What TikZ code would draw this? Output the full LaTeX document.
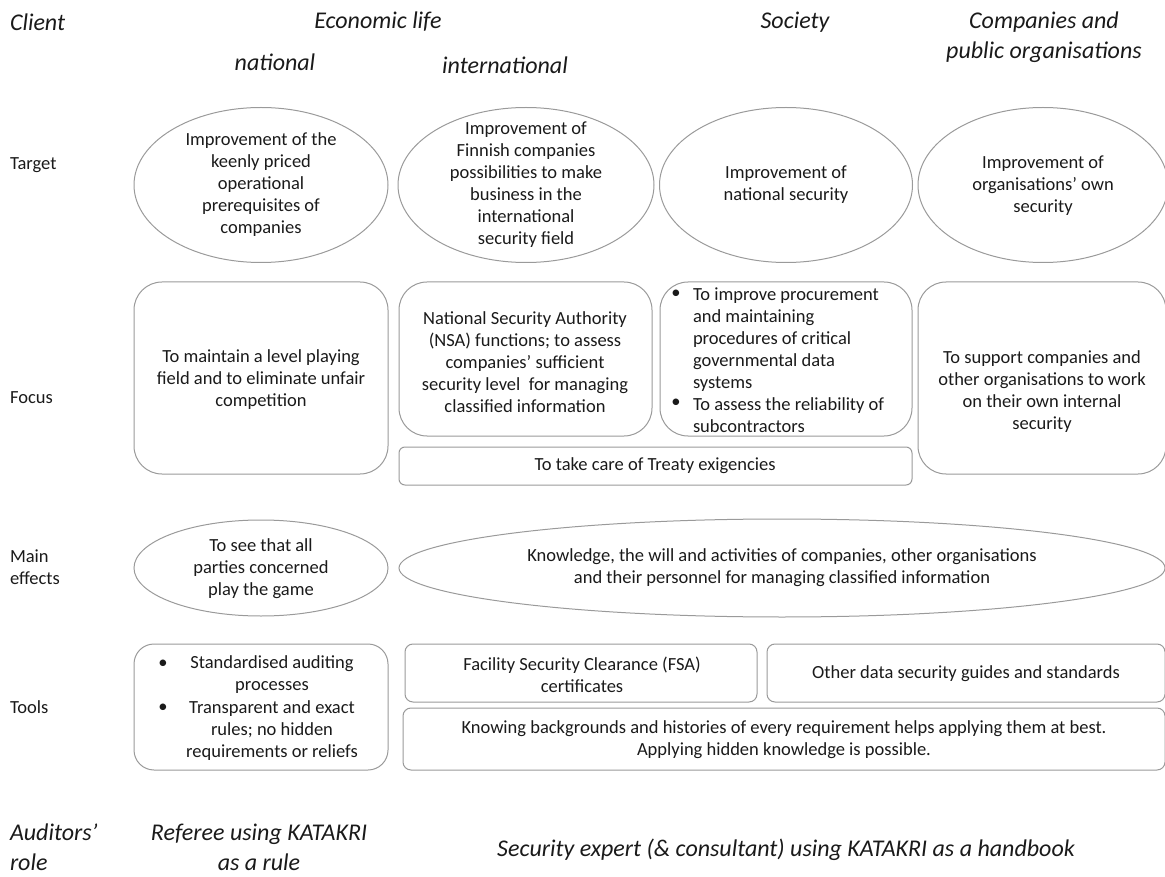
\documentclass[tikz,border=0pt]{standalone}
\usepackage{fontspec}
\setmainfont{Carlito}
\usetikzlibrary{shapes.geometric}
\definecolor{edge}{HTML}{9A9A9A}
\definecolor{txt}{HTML}{1A1A1A}
\begin{document}
\begin{tikzpicture}[x=1pt,y=-1pt,
  every node/.style={inner sep=0pt, outer sep=0pt, text=txt},
  body/.style={font=\fontsize{18.5}{22}\selectfont, align=center},
  head/.style={font=\fontsize{24}{30}\selectfont\itshape, align=center},
  lab/.style={font=\fontsize{18.5}{22}\selectfont, align=left, anchor=west},
  oval/.style={ellipse, draw=edge, line width=1pt},
  rbox/.style={rectangle, draw=edge, line width=1pt, rounded corners=#1},
  rbox/.default=8pt
]
\useasboundingbox (0,0) rectangle (1165,877);

% headers
\node[head, anchor=west] (hclient) at (10,22) {Client};
\node[head] (hecon) at (378,22) {Economic life};
\node[head] (hnat) at (275,62) {national};
\node[head] (hint) at (505,65) {international};
\node[head] (hsoc) at (795,22) {Society};
\node[head] (hcomp) at (1044,37) {Companies and\\public organisations};

% row labels
\node[lab] (ltarget) at (10,165) {Target};
\node[lab] (lfocus) at (10,398) {Focus};
\node[lab] (lmain) at (10,567) {Main\\effects};
\node[lab] (ltools) at (10,707) {Tools};

% Target row
\node[oval, minimum width=254pt, minimum height=155pt] (e1) at (261,185) {};
\node[oval, minimum width=256pt, minimum height=155pt] (e2) at (526,185) {};
\node[oval, minimum width=253pt, minimum height=155pt] (e3) at (786,185) {};
\node[oval, minimum width=250pt, minimum height=155pt] (e4) at (1043,185) {};
\node[body] (t1) at (261,185) {Improvement of the\\keenly priced\\operational\\prerequisites of\\companies};
\node[body] (t2) at (526,185) {Improvement of\\Finnish companies\\possibilities to make\\business in the\\international\\security field};
\node[body] (t3) at (786,185) {Improvement of\\national security};
\node[body] (t4) at (1043,186) {Improvement of\\organisations’ own\\security};

% Focus row
\node[rbox=28pt, minimum width=254pt, minimum height=192pt] (r1) at (261,378) {};
\node[rbox=28pt, minimum width=253pt, minimum height=154pt] (r2) at (525.5,359) {};
\node[rbox=28pt, minimum width=252pt, minimum height=154pt] (r3) at (786,359) {};
\node[rbox=28pt, minimum width=248pt, minimum height=192pt] (r4) at (1042,378) {};
\node[rbox=6pt, minimum width=513pt, minimum height=38pt] (r5) at (655.5,466) {};
\node[body] (t5) at (261,380) {To maintain a level playing\\field and to eliminate unfair\\competition};
\node[body] (t6) at (525,362) {National Security Authority\\(NSA) functions; to assess\\companies’ sufficient\\security level\ \ for managing\\classified information};
\node[body, align=left, anchor=west] (t7) at (693,360) {To improve procurement\\and maintaining\\procedures of critical\\governmental data\\systems\\To assess the reliability of\\subcontractors};
\node[body] (b3) at (676,294) {\textbullet};
\node[body] (b4) at (676,403) {\textbullet};
\node[body] (t8) at (1042,392) {To support companies and\\other organisations to work\\on their own internal\\security};
\node[body] (t9) at (655,466) {To take care of Treaty exigencies};

% Main effects row
\node[oval, minimum width=254pt, minimum height=96pt] (e5) at (261,568) {};
\node[oval, minimum width=766pt, minimum height=98pt] (e6) at (782,568) {};
\node[body] (t10) at (261,569) {To see that all\\parties concerned\\play the game};
\node[body] (t11) at (782,568) {Knowledge, the will and activities of companies, other organisations\\and their personnel for managing classified information};

% Tools row
\node[rbox=20pt, minimum width=254pt, minimum height=126pt] (r6) at (261,707) {};
\node[rbox=8pt, minimum width=352pt, minimum height=58pt] (r7) at (581,673) {};
\node[rbox=8pt, minimum width=398pt, minimum height=58pt] (r8) at (966,673) {};
\node[rbox=8pt, minimum width=762pt, minimum height=62pt] (r9) at (784,739) {};
\node[body] (t12a) at (272,675) {Standardised auditing\\processes};
\node[body] (t12b) at (272,731) {Transparent and exact\\rules; no hidden\\requirements or reliefs};
\node[body] (b1) at (163,664) {\textbullet};
\node[body] (b2) at (163,708) {\textbullet};
\node[body] (t13) at (582,675) {Facility Security Clearance (FSA)\\certificates};
\node[body] (t14) at (966,674) {Other data security guides and standards};
\node[body] (t15) at (784,740) {Knowing backgrounds and histories of every requirement helps applying them at best.\\Applying hidden knowledge is possible.};

% Auditors' role row
\node[head, align=left, anchor=west] (ra) at (10,847) {Auditors’\\role};
\node[head] (rb) at (259,847) {Referee using KATAKRI\\as a rule};
\node[head] (rc) at (786,850) {Security expert (\& consultant) using KATAKRI as a handbook};
\end{tikzpicture}
\end{document}
